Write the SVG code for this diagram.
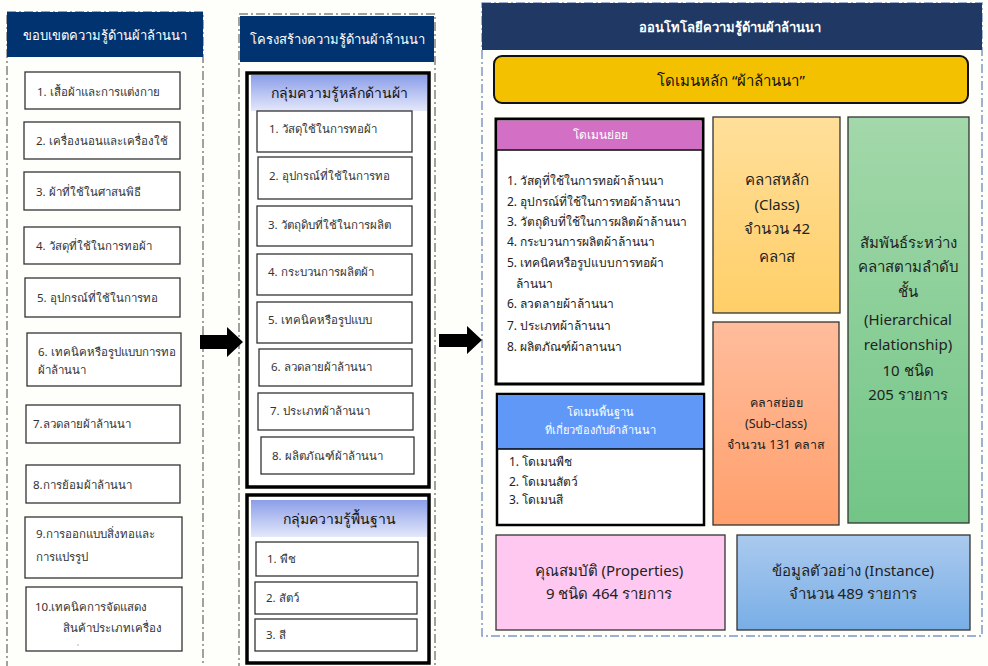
<svg xmlns="http://www.w3.org/2000/svg" width="988" height="666" viewBox="0 0 988 666">
  <defs>
    <linearGradient id="gHead" x1="0" y1="0" x2="0" y2="1">
      <stop offset="0" stop-color="#8b9ee8"/>
      <stop offset="1" stop-color="#e4e8fb"/>
    </linearGradient>
    <linearGradient id="gClass" x1="0" y1="0" x2="0" y2="1">
      <stop offset="0" stop-color="#ffdf9a"/>
      <stop offset="1" stop-color="#ffcf68"/>
    </linearGradient>
    <linearGradient id="gSub" x1="0" y1="0" x2="0" y2="1">
      <stop offset="0" stop-color="#ffbd9c"/>
      <stop offset="1" stop-color="#ff9f6c"/>
    </linearGradient>
    <linearGradient id="gRel" x1="0" y1="0" x2="0" y2="1">
      <stop offset="0" stop-color="#a3d8aa"/>
      <stop offset="1" stop-color="#72c586"/>
    </linearGradient>
    <linearGradient id="gInst" x1="0" y1="0" x2="0" y2="1">
      <stop offset="0" stop-color="#abcaee"/>
      <stop offset="1" stop-color="#78aee6"/>
    </linearGradient>
  </defs>
  <style>
    text { font-family: Tahoma, "Noto Sans", "DejaVu Sans", sans-serif; }
    .panel { fill: #fefefb; stroke: #444; stroke-width: 1; stroke-dasharray: 9 3 2 3; }
    .panelR { fill: #fefefb; stroke: #7f98c6; stroke-width: 1.5; stroke-dasharray: 9 3 2 3; }
    .navy { fill: #003370; }
    .navyR { fill: #1f3864; }
    .htxt { fill: #ffffff; font-size: 13px; text-anchor: middle; }
    .item { fill: #ffffff; stroke: #333; stroke-width: 1.3; }
    .itxt { fill: #333; font-size: 11.5px; }
    .grp { fill: #ffffff; stroke: #000; stroke-width: 3.5; }
    .ghead { fill: url(#gHead); }
    .gtxt { fill: #111; font-size: 14px; text-anchor: middle; }
    .list { fill: #222; font-size: 12px; }
    .big { fill: #222; font-size: 15px; text-anchor: middle; }
    .mid { fill: #222; font-size: 12.5px; text-anchor: middle; }
    .box { stroke: #333; stroke-width: 1.3; }
    .arrow { fill: #000; }
  </style>

  <rect width="988" height="666" fill="#fefefb"/>

  <!-- Column 1: scope of knowledge -->
  <g id="scope">
    <rect class="panel" x="7" y="12" width="196" height="660"/>
    <rect class="navy" x="7" y="12" width="196" height="45"/>
    <text class="htxt" x="105" y="40">ขอบเขตความรู้ด้านผ้าล้านนา</text>
    <g id="scope-1"><rect class="item" x="25" y="72" width="155" height="37"/><text class="itxt" x="37" y="96">1. เสื้อผ้าและการแต่งกาย</text></g>
    <g id="scope-2"><rect class="item" x="24" y="122" width="156" height="37"/><text class="itxt" x="36" y="145">2. เครื่องนอนและเครื่องใช้</text></g>
    <g id="scope-3"><rect class="item" x="24" y="172" width="156" height="38"/><text class="itxt" x="36" y="196">3. ผ้าที่ใช้ในศาสนพิธี</text></g>
    <g id="scope-4"><rect class="item" x="24" y="227" width="156" height="37"/><text class="itxt" x="36" y="250">4. วัสดุที่ใช้ในการทอผ้า</text></g>
    <g id="scope-5"><rect class="item" x="25" y="278" width="155" height="39"/><text class="itxt" x="37" y="302">5. อุปกรณ์ที่ใช้ในการทอ</text></g>
    <g id="scope-6"><rect class="item" x="27" y="333" width="154" height="53"/><text class="itxt" x="38" y="356" font-size="10.5">6. เทคนิคหรือรูปแบบการทอ</text><text class="itxt" x="38" y="374" font-size="10.5">ผ้าล้านนา</text></g>
    <g id="scope-7"><rect class="item" x="26" y="405" width="154" height="38"/><text class="itxt" x="33" y="428">7.ลวดลายผ้าล้านนา</text></g>
    <g id="scope-8"><rect class="item" x="26" y="465" width="154" height="38"/><text class="itxt" x="33" y="489">8.การย้อมผ้าล้านนา</text></g>
    <g id="scope-9"><rect class="item" x="25" y="517" width="157" height="61"/><text class="itxt" x="36" y="538">9.การออกแบบสิ่งทอและ</text><text class="itxt" x="36" y="561">การแปรรูป</text></g>
    <g id="scope-10"><rect class="item" x="26" y="587" width="156" height="64"/><text class="itxt" x="35" y="611">10.เทคนิคการจัดแสดง</text><text class="itxt" x="63" y="632">สินค้าประเภทเครื่อง</text><circle cx="78" cy="645" r="0.8" fill="#aaa"/></g>
  </g>

  <!-- Column 2: knowledge structure -->
  <g id="structure">
    <rect class="panel" x="239" y="14" width="196" height="660"/>
    <rect class="navy" x="240" y="16" width="194" height="46"/>
    <text class="htxt" x="337" y="44">โครงสร้างความรู้ด้านผ้าล้านนา</text>
  </g>

  <g id="core-group">
    <rect class="grp" x="247" y="73" width="182" height="414"/>
    <rect class="ghead" x="251" y="75" width="176" height="36"/>
    <text class="gtxt" x="339" y="98">กลุ่มความรู้หลักด้านผ้า</text>
    <g id="core-1"><rect class="item" x="257" y="111" width="155" height="41"/><text class="itxt" x="269" y="133">1. วัสดุใช้ในการทอผ้า</text></g>
    <g id="core-2"><rect class="item" x="258" y="157" width="154" height="42"/><text class="itxt" x="269" y="180">2. อุปกรณ์ที่ใช้ในการทอ</text></g>
    <g id="core-3"><rect class="item" x="257" y="206" width="155" height="40"/><text class="itxt" x="268" y="229">3. วัตถุดิบที่ใช้ในการผลิต</text></g>
    <g id="core-4"><rect class="item" x="257" y="254" width="155" height="41"/><text class="itxt" x="268" y="276">4. กระบวนการผลิตผ้า</text></g>
    <g id="core-5"><rect class="item" x="257" y="302" width="155" height="41"/><text class="itxt" x="268" y="324">5. เทคนิคหรือรูปแบบ</text></g>
    <g id="core-6"><rect class="item" x="259" y="349" width="153" height="37"/><text class="itxt" x="271" y="371">6. ลวดลายผ้าล้านนา</text></g>
    <g id="core-7"><rect class="item" x="258" y="393" width="155" height="37"/><text class="itxt" x="270" y="415">7. ประเภทผ้าล้านนา</text></g>
    <g id="core-8"><rect class="item" x="261" y="437" width="153" height="37"/><text class="itxt" x="272" y="460">8. ผลิตภัณฑ์ผ้าล้านนา</text></g>
  </g>

  <g id="base-group">
    <rect class="grp" x="247" y="495" width="182" height="168"/>
    <rect class="ghead" x="251" y="500" width="176" height="37"/>
    <text class="gtxt" x="339" y="524">กลุ่มความรู้พื้นฐาน</text>
    <g id="base-1"><rect class="item" x="256" y="542" width="162" height="34"/><text class="itxt" x="267" y="563" font-size="11">1. พืช</text></g>
    <g id="base-2"><rect class="item" x="255" y="582" width="162" height="32"/><text class="itxt" x="266" y="602" font-size="11">2. สัตว์</text></g>
    <g id="base-3"><rect class="item" x="255" y="619" width="162" height="32"/><text class="itxt" x="266" y="639" font-size="11">3. สี</text></g>
  </g>

  <!-- Column 3: ontology -->
  <g id="ontology">
    <rect class="panelR" x="482" y="3" width="500" height="633"/>
    <rect class="navyR" x="482" y="3" width="500" height="47"/>
    <text class="htxt" x="730" y="32" font-size="16" font-weight="bold">ออนโทโลยีความรู้ด้านผ้าล้านนา</text>
  </g>

  <g id="main-domain">
    <rect x="494" y="56" width="474" height="47" rx="8" fill="#f4c100" stroke="#111" stroke-width="2"/>
    <text x="731" y="86" fill="#111" font-size="15" text-anchor="middle">โดเมนหลัก “ผ้าล้านนา”</text>
  </g>

  <g id="sub-domain">
    <rect x="496" y="119" width="207" height="265" fill="#ffffff" stroke="#000" stroke-width="3"/>
    <rect x="497.5" y="120.5" width="204" height="29" fill="#d46fc6"/>
    <line x1="496" y1="150" x2="703" y2="150" stroke="#000" stroke-width="1.5"/>
    <text x="600" y="139" fill="#fff" font-size="12" text-anchor="middle">โดเมนย่อย</text>
    <text class="list" x="507" y="185">1. วัสดุที่ใช้ในการทอผ้าล้านนา</text>
    <text class="list" x="507" y="206">2. อุปกรณ์ที่ใช้ในการทอผ้าล้านนา</text>
    <text class="list" x="507" y="226">3. วัตถุดิบที่ใช้ในการผลิตผ้าล้านนา</text>
    <text class="list" x="507" y="246">4. กระบวนการผลิตผ้าล้านนา</text>
    <text class="list" x="507" y="267">5. เทคนิคหรือรูปแบบการทอผ้า</text>
    <text class="list" x="516" y="288">ล้านนา</text>
    <text class="list" x="507" y="308">6. ลวดลายผ้าล้านนา</text>
    <text class="list" x="507" y="330">7. ประเภทผ้าล้านนา</text>
    <text class="list" x="507" y="351">8. ผลิตภัณฑ์ผ้าลานนา</text>
  </g>

  <g id="base-domain">
    <rect x="497" y="394" width="207" height="131" fill="#ffffff" stroke="#000" stroke-width="2.5"/>
    <rect x="498" y="395" width="205" height="54" fill="#6098f8"/>
    <line x1="497" y1="449" x2="704" y2="449" stroke="#000" stroke-width="1.3"/>
    <text x="600" y="416" fill="#fff" font-size="11" text-anchor="middle">โดเมนพื้นฐาน</text>
    <text x="600" y="434" fill="#fff" font-size="11" text-anchor="middle">ที่เกี่ยวข้องกับผ้าล้านนา</text>
    <text class="list" x="509" y="466" font-size="11">1. โดเมนพืช</text>
    <text class="list" x="509" y="486" font-size="11">2. โดเมนสัตว์</text>
    <text class="list" x="509" y="504" font-size="11">3. โดเมนสี</text>
  </g>

  <g id="class">
    <rect class="box" x="713" y="117" width="127" height="196" fill="url(#gClass)"/>
    <text class="big" x="777" y="185">คลาสหลัก</text>
    <text class="big" x="777" y="210">(Class)</text>
    <text class="big" x="777" y="234">จำนวน 42</text>
    <text class="big" x="777" y="262">คลาส</text>
  </g>

  <g id="sub-class">
    <rect class="box" x="713" y="322" width="126" height="203" fill="url(#gSub)"/>
    <text class="mid" x="776" y="407">คลาสย่อย</text>
    <text class="mid" x="776" y="428">(Sub-class)</text>
    <text class="mid" x="776" y="449">จำนวน 131 คลาส</text>
  </g>

  <g id="relation">
    <rect class="box" x="848" y="117" width="121" height="406" fill="url(#gRel)"/>
    <text class="big" x="908" y="248">สัมพันธ์ระหว่าง</text>
    <text class="big" x="908" y="272">คลาสตามลำดับ</text>
    <text class="big" x="908" y="297">ชั้น</text>
    <text class="big" x="908" y="325">(Hierarchical</text>
    <text class="big" x="908" y="350">relationship)</text>
    <text class="big" x="908" y="376">10 ชนิด</text>
    <text class="big" x="908" y="400">205 รายการ</text>
  </g>

  <g id="properties">
    <rect class="box" x="496" y="535" width="229" height="95" fill="#ffc8f0"/>
    <text class="big" x="609" y="576">คุณสมบัติ (Properties)</text>
    <text class="big" x="609" y="599">9 ชนิด 464 รายการ</text>
  </g>

  <g id="instance">
    <rect class="box" x="737" y="535" width="233" height="95" fill="url(#gInst)"/>
    <text class="big" x="853" y="576">ข้อมูลตัวอย่าง (Instance)</text>
    <text class="big" x="853" y="599">จำนวน 489 รายการ</text>
  </g>

  <!-- Flow arrows between the three columns -->
  <g id="connectors">
    <polygon class="arrow" points="200,335 227,335 227,327 243,342 227,357 227,349 200,349"/>
    <polygon class="arrow" points="439,334 467,334 467,326 482,340 467,354 467,347 439,347"/>
  </g>
</svg>
